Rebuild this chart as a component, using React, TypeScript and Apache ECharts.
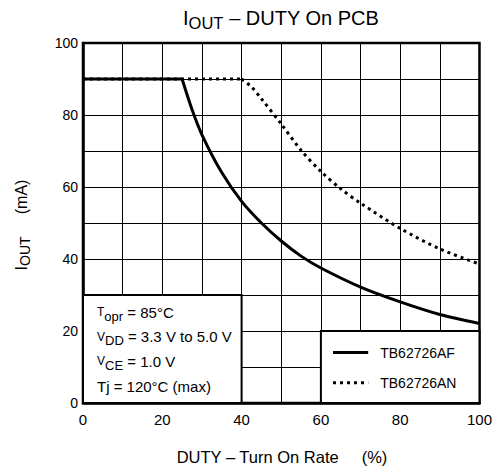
import React, { useEffect, useRef } from "react";
import * as echarts from "echarts";

const xTicks = [0, 20, 40, 60, 80, 100];
const yTicks = [0, 20, 40, 60, 80, 100];

// TB62726AF: flat part, then falling part
const afFlatDuty = [0, 25];
const afFlatIout = [90, 90];
const afDuty = [25, 27.5, 30, 35, 40, 45, 50, 55, 60, 70, 80, 90, 100];
const afIout = [90, 81.5, 74.5, 64, 56, 50, 45, 40.8, 37.5, 32.2, 28.1, 24.6, 22.1];

// TB62726AN: flat part, then falling part
const anFlatDuty = [0, 40];
const anFlatIout = [90, 90];
const anDuty = [40, 42.5, 45, 50, 55, 60, 65, 70, 80, 90, 100];
const anIout = [90, 87.8, 84.5, 77.5, 70.2, 64.3, 59.5, 55.5, 48.5, 42.8, 38.6];

const conditionLines = [
  "T{s|opr}{a| = 85°C}",
  "V{s|DD}{a| = 3.3 V to 5.0 V}",
  "V{s|CE}{a| = 1.0 V}",
  "{a|Tj = 120°C (max)}",
];
const legendNames = ["TB62726AF", "TB62726AN"];

const FONT = "'Liberation Sans', Arial, sans-serif";

const pairs = (xs: number[], ys: number[]) => xs.map((x, i) => [x, ys[i]]);

export default function App() {
  const ref = useRef<HTMLDivElement>(null);
  useEffect(() => {
    if (!ref.current) return;
    const chart = echarts.init(ref.current, undefined, { renderer: "svg" });
    const L = 83, T = 43, W = 400, H = 360;
    const px = (x: number) => L + (x / 100) * W;
    const py = (y: number) => T + H - (y / 100) * H;
    const rich = {
      a: { fontSize: 15, fontFamily: FONT, color: "#000" },
      s: { fontSize: 13, fontFamily: FONT, color: "#000", padding: [8, 0, 0, 0] },
    };
    const solid = { color: "#000", width: 3 };
    const dotted = { color: "#000", width: 3, type: [3, 4], cap: "butt" };
    const option: any = {
      animation: false,
      backgroundColor: "#fff",
      grid: {
        left: L, top: T, width: W, height: H,
        show: true, borderColor: "#000", borderWidth: 2.5, backgroundColor: "transparent",
      },
      xAxis: {
        type: "value", min: 0, max: 100, interval: 10,
        axisLine: { show: true, lineStyle: { color: "#000", width: 2.5 } },
        axisTick: { show: false },
        splitLine: { show: true, lineStyle: { color: "#000", width: 1 } },
        axisLabel: {
          margin: 9, color: "#000", fontSize: 15, fontFamily: FONT,
          formatter: (v: number) => (xTicks.includes(v) ? String(v) : ""),
        },
      },
      yAxis: {
        type: "value", min: 0, max: 100, interval: 10,
        axisLine: { show: true, lineStyle: { color: "#000", width: 2.5 } },
        axisTick: { show: false },
        splitLine: { show: true, lineStyle: { color: "#000", width: 1 } },
        axisLabel: {
          margin: 5, color: "#000", fontSize: 14, fontFamily: FONT,
          formatter: (v: number) => (yTicks.includes(v) ? String(v) : ""),
        },
      },
      series: [
        {
          name: legendNames[1], type: "line", showSymbol: false,
          data: pairs(anFlatDuty, anFlatIout),
          lineStyle: dotted,
          markArea: {
            silent: true,
            itemStyle: { color: "#fff", borderColor: "#000", borderWidth: 2 },
            data: [
              [{ coord: [0, 0] }, { coord: [40, 30] }],
              [{ coord: [60, 0] }, { coord: [100, 20] }],
            ],
          },
          z: 2,
        },
        {
          name: legendNames[1], type: "line", showSymbol: false,
          smooth: 0.3,
          data: pairs(anDuty, anIout),
          lineStyle: dotted,
          z: 2,
        },
        {
          name: legendNames[0], type: "line", showSymbol: false,
          data: pairs(afFlatDuty, afFlatIout),
          lineStyle: solid,
          z: 3,
        },
        {
          name: legendNames[0], type: "line", showSymbol: false,
          smooth: 0.3,
          data: pairs(afDuty, afIout),
          lineStyle: solid,
          z: 3,
        },
      ],
      graphic: [
        {
          type: "text", x: 281, y: 18, z: 10,
          style: {
            text: "{b|I}{t|OUT}{b| – DUTY On PCB}",
            align: "center", verticalAlign: "middle",
            rich: {
              b: { fontSize: 20, fontFamily: FONT, color: "#000" },
              t: { fontSize: 16.5, fontFamily: FONT, color: "#000", padding: [9, 0, 0, 0] },
            },
          },
        },
        {
          type: "text", x: 21, y: 225, rotation: Math.PI / 2, z: 10,
          style: {
            text: "{b|I}{t|OUT}{b|     (mA)}",
            align: "center", verticalAlign: "middle",
            rich: {
              b: { fontSize: 16, fontFamily: FONT, color: "#000" },
              t: { fontSize: 14, fontFamily: FONT, color: "#000", padding: [7, 0, 0, 0] },
            },
          },
        },
        {
          type: "text", x: 282, y: 457, z: 10,
          style: {
            text: "DUTY – Turn On Rate     (%)",
            align: "center", verticalAlign: "middle",
            fontSize: 16.5, fontFamily: FONT, fill: "#000",
          },
        },
        ...conditionLines.map((t, i) => ({
          type: "text", x: px(3.5), y: 312 + i * 24.7, z: 10,
          style: { text: t, align: "left", verticalAlign: "middle", rich },
        })),
        {
          type: "line", z: 10,
          shape: { x1: px(62.5), y1: py(14), x2: px(71.3), y2: py(14) },
          style: { stroke: "#000", lineWidth: 3 },
        },
        {
          type: "line", z: 10,
          shape: { x1: px(62.5), y1: py(5.6), x2: px(71.3), y2: py(5.6) },
          style: { stroke: "#000", lineWidth: 3, lineDash: [3, 4] },
        },
        ...legendNames.map((n, i) => ({
          type: "text", x: px(74.3), y: py(i === 0 ? 14 : 5.6), z: 10,
          style: {
            text: n, align: "left", verticalAlign: "middle",
            fontSize: 14, fontFamily: FONT, fill: "#000",
          },
        })),
      ],
    };
    chart.setOption(option);
    return () => chart.dispose();
  }, []);
  return (
    <div
      ref={ref}
      style={{ position: "fixed", left: 0, top: 0, width: 495, height: 472, background: "#fff" }}
    />
  );
}
